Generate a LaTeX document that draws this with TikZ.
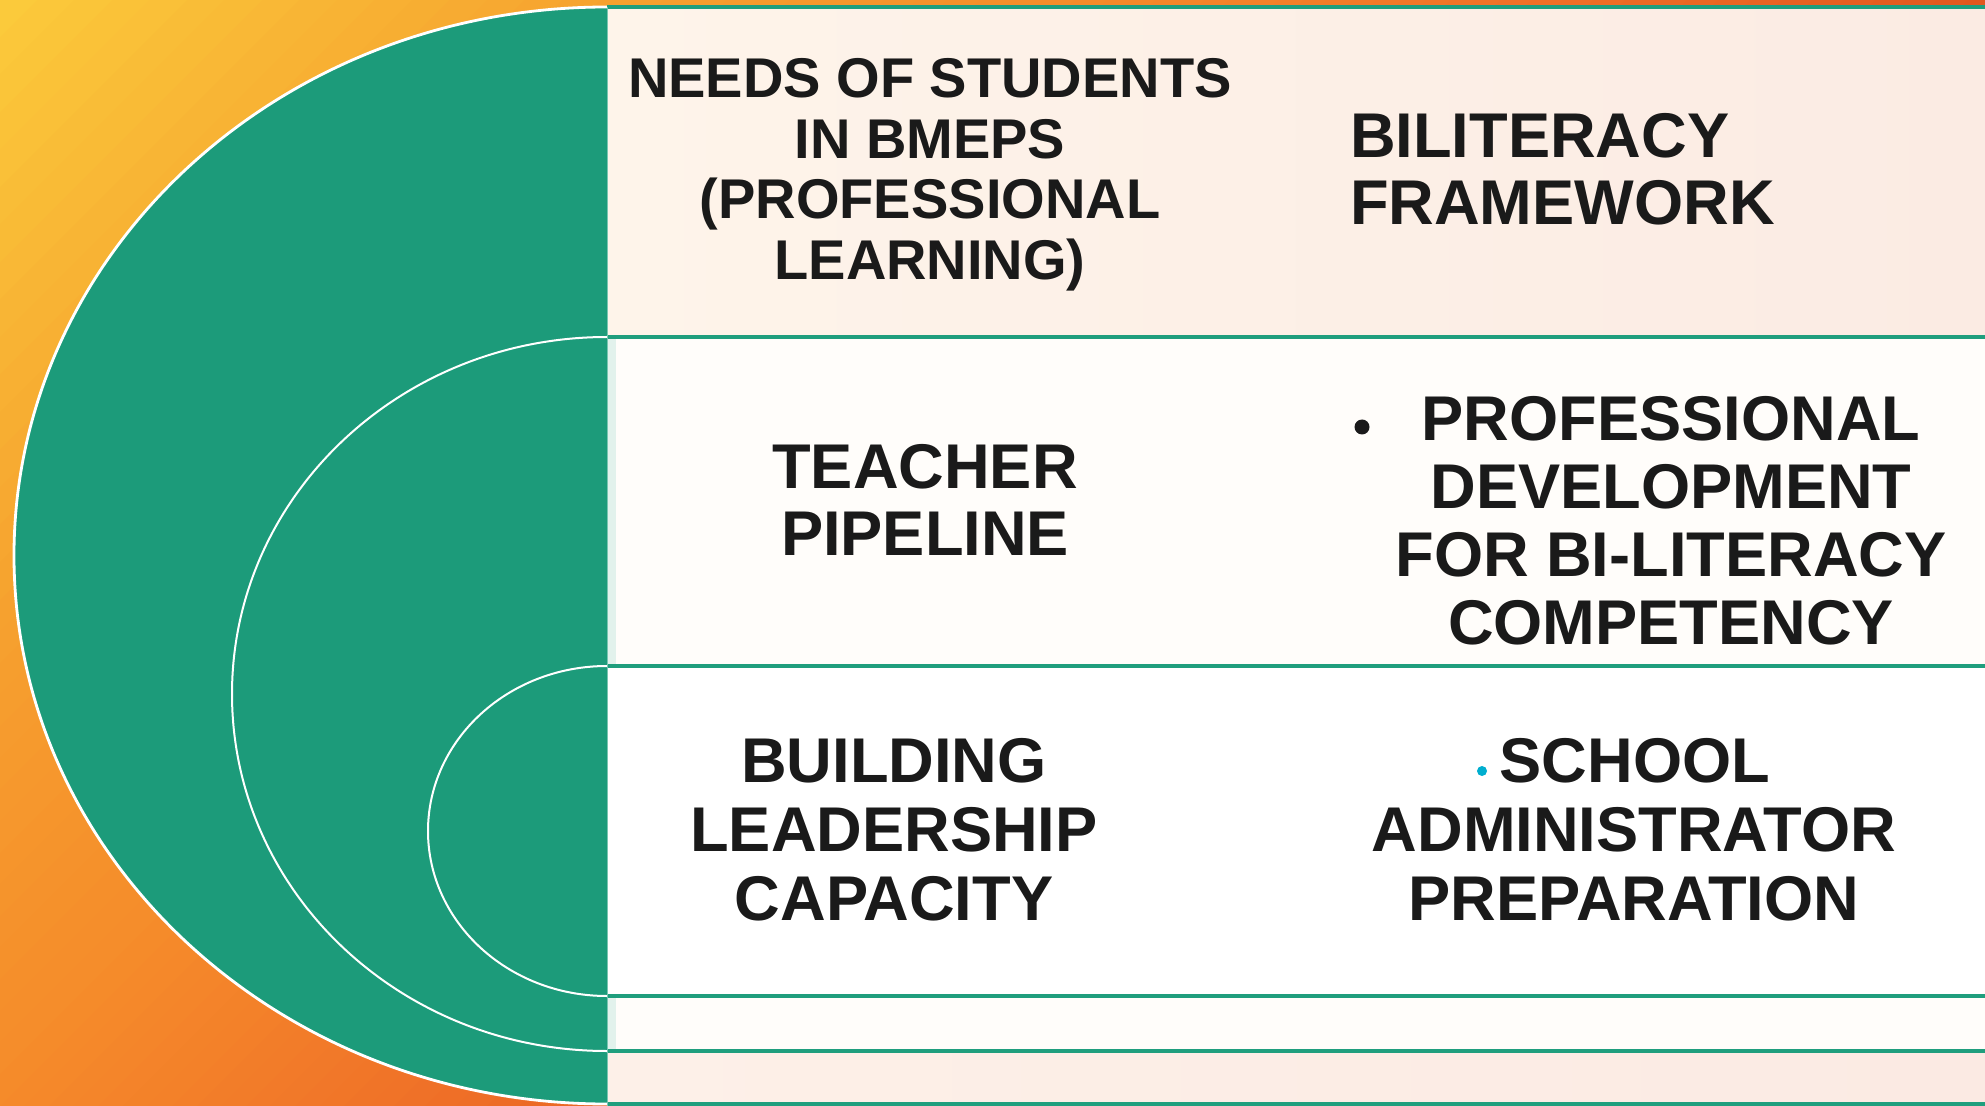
\documentclass[tikz,border=0pt]{standalone}
\usepackage{fontspec}
\setmainfont{Liberation Sans}
\definecolor{tgreen}{HTML}{1C9B7A}
\definecolor{tline}{HTML}{1F9E7D}
\definecolor{lgreen}{HTML}{E2F2EC}
\definecolor{ink}{HTML}{1A1A1A}
\definecolor{bulletblue}{HTML}{00AECF}
\definecolor{bA}{HTML}{FBCB3B}
\definecolor{bB}{HTML}{F6A22F}
\definecolor{bC}{HTML}{F58A2A}
\definecolor{bD}{HTML}{F07228}
\definecolor{bE}{HTML}{E0561E}
\definecolor{bF}{HTML}{D64818}
\definecolor{rowAa}{HTML}{FEF4EA}
\definecolor{rowAb}{HTML}{FBEBE3}
\definecolor{rowB}{HTML}{FFFDFA}
\definecolor{rowEa}{HTML}{FDF0E8}
\definecolor{rowEb}{HTML}{FBEAE3}
\begin{document}
\begin{tikzpicture}[x=0.5pt,y=-0.5pt,
  txt/.style={inner sep=0pt, outer sep=0pt, text=ink, font=\bfseries\fontsize{31.6}{34}\selectfont},
  txtsmall/.style={inner sep=0pt, outer sep=0pt, text=ink, font=\bfseries\fontsize{28}{30}\selectfont},
  divider/.style={draw=tline, line width=2pt},
  arcline/.style={draw=white, line width=1pt}]
\useasboundingbox (0,0) rectangle (1985,1106);
% background diagonal gradient
\begin{scope}
\clip (0,0) rectangle (1985,1106);
\foreach \a/\b/\ca/\cb in {0/600/bA/bB, 600/1106/bB/bC, 1106/1500/bC/bD, 1500/2000/bD/bE, 2000/3100/bE/bF}{
  \foreach \k in {0,...,15}{
    \pgfmathsetmacro\stp{(\b-\a)/16}
    \pgfmathsetmacro\tA{\a+\stp*\k}
    \pgfmathsetmacro\tB{\a+\stp*(\k+1)+2}
    \pgfmathtruncatemacro\pc{100*(\k+0.5)/16}
    \fill[\cb!\pc!\ca] (\tA,0) -- (\tB,0) -- (\tB-1106,1106) -- (\tA-1106,1106) -- cycle;
  }
}
\end{scope}
% rows
\shade[left color=rowAa, right color=rowAb] (607,7) rectangle (1985,337);
\fill[rowB] (607,337) rectangle (1985,666);
\fill[white] (607,666) rectangle (1985,996);
\fill[rowB] (607,996) rectangle (1985,1051);
\shade[left color=rowEa, right color=rowEb] (607,1051) rectangle (1985,1104);
\fill[lgreen] (607,337) rectangle (616,666);
\fill[lgreen] (607,996) rectangle (616,1051);
% green half ellipses
\begin{scope}
\clip (0,0) rectangle (607,1106);
\fill[tgreen] (607,555.5) ellipse [x radius=593, y radius=548.5];
\draw[arcline, line width=1.4pt] (607,555.5) ellipse [x radius=593, y radius=548.5];
\draw[arcline] (607,694) ellipse [x radius=375, y radius=357];
\draw[arcline] (607,831) ellipse [x radius=179, y radius=165];
\end{scope}
% dividers
\draw[divider] (607,7) -- (1985,7);
\draw[divider] (607,337) -- (1985,337);
\draw[divider] (607,666) -- (1985,666);
\draw[divider] (607,996) -- (1985,996);
\draw[divider] (607,1051) -- (1985,1051);
\draw[divider] (607,1104) -- (1985,1104);
\draw[draw=tline!60, line width=0.5pt] (607,7) -- (607,1106);
% texts row 1
\node[txtsmall, anchor=base] (na) at (930,98) {NEEDS OF STUDENTS};
\node[txtsmall, anchor=base] (nb) at (930,158.4) {IN BMEPS};
\node[txtsmall, anchor=base] (nc) at (930,218.8) {(PROFESSIONAL};
\node[txtsmall, anchor=base] (nd) at (930,279.2) {LEARNING)};
\node[txt, anchor=base west] (ba) at (1350,158) {BILITERACY};
\node[txt, anchor=base west] (bb) at (1350,225) {FRAMEWORK};
% row 2
\node[txt, anchor=base] (ta) at (925,488.6) {TEACHER};
\node[txt, anchor=base] (tb) at (925,555.6) {PIPELINE};
\fill[ink] (1362,427) circle [radius=7.5];
\node[txt, anchor=base] (pa) at (1671,440.6) {PROFESSIONAL};
\node[txt, anchor=base] (pb) at (1671,508.6) {DEVELOPMENT};
\node[txt, anchor=base] (pc) at (1671,576.6) {FOR BI-LITERACY};
\node[txt, anchor=base] (pd) at (1671,644.6) {COMPETENCY};
% row 3
\node[txt, anchor=base] (la) at (894,782) {BUILDING};
\node[txt, anchor=base] (lb) at (894,851) {LEADERSHIP};
\node[txt, anchor=base] (lc) at (894,920) {CAPACITY};
\fill[bulletblue] (1482,771) circle [radius=5];
\node[txt, anchor=base] (sa) at (1635,782) {SCHOOL};
\node[txt, anchor=base] (sb) at (1634,851) {ADMINISTRATOR};
\node[txt, anchor=base] (sc) at (1634,920) {PREPARATION};
\end{tikzpicture}
\end{document}
